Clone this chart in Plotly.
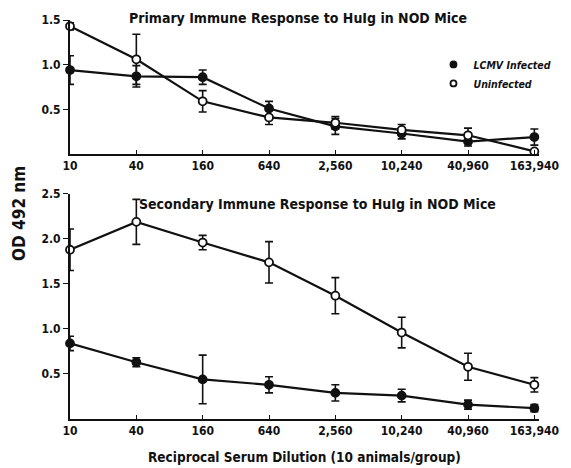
import plotly.graph_objects as go

dilutions = ["10", "40", "160", "640", "2,560", "10,240", "40,960", "163,940"]

# Primary response
prim_lcmv = [0.94, 0.87, 0.86, 0.51, 0.31, 0.23, 0.14, 0.19]
prim_lcmv_err = [0.16, 0.12, 0.08, 0.08, 0.09, 0.06, 0.05, 0.09]
prim_uninf = [1.43, 1.06, 0.59, 0.41, 0.35, 0.27, 0.21, 0.03]
prim_uninf_err = [0.04, 0.28, 0.12, 0.08, 0.07, 0.06, 0.08, 0.0]

# Secondary response
sec_lcmv = [0.84, 0.63, 0.44, 0.38, 0.29, 0.26, 0.16, 0.12]
sec_lcmv_err = [0.08, 0.05, 0.27, 0.09, 0.09, 0.07, 0.05, 0.04]
sec_uninf = [1.88, 2.19, 1.96, 1.74, 1.37, 0.96, 0.58, 0.38]
sec_uninf_err = [0.23, 0.25, 0.08, 0.23, 0.20, 0.17, 0.15, 0.08]

series_names = ["LCMV Infected", "Uninfected"]

FONT = "Liberation Sans Narrow, DejaVu Sans Condensed, Arial Narrow, sans-serif"
BLACK = "#111111"

fig = go.Figure()

def marker(filled, size=8):
    return dict(symbol="circle", size=size,
                color=BLACK if filled else "white",
                line=dict(color=BLACK, width=1.8))

def add(x, y, err, filled, xa, ya, name):
    fig.add_trace(go.Scatter(
        x=x, y=y, mode="lines+markers", name=name, showlegend=False,
        xaxis=xa, yaxis=ya, cliponaxis=False,
        line=dict(color=BLACK, width=2.2),
        marker=marker(filled),
        error_y=dict(type="data", array=err, visible=True,
                     color=BLACK, thickness=1.6, width=4),
    ))

add(dilutions, prim_lcmv, prim_lcmv_err, True, "x", "y", series_names[0])
add(dilutions, prim_uninf, prim_uninf_err, False, "x", "y", series_names[1])
add(dilutions, sec_lcmv, sec_lcmv_err, True, "x2", "y2", series_names[0])
add(dilutions, sec_uninf, sec_uninf_err, False, "x2", "y2", series_names[1])

# legend-only entries (markers only)
for name, filled in zip(series_names, [True, False]):
    fig.add_trace(go.Scatter(x=[None], y=[None], mode="markers", name=name,
                             showlegend=True, marker=marker(filled, 6),
                             xaxis="x", yaxis="y"))

xcommon = dict(type="category", range=[0, 7.07], showline=True, linecolor=BLACK,
               linewidth=2, ticks="inside", ticklen=4, tickcolor=BLACK,
               showgrid=False, zeroline=False,
               tickfont=dict(family=FONT, size=12, color=BLACK, weight="bold"))
ycommon = dict(showline=True, linecolor=BLACK, linewidth=2, ticks="outside",
               ticklen=5, tickcolor=BLACK, showgrid=False, zeroline=False,
               tickformat=".1f",
               tickfont=dict(family=FONT, size=12, color=BLACK, weight="bold"))

fig.update_layout(
    width=571, height=468,
    margin=dict(l=70, r=23, t=20, b=49),
    paper_bgcolor="white", plot_bgcolor="white",
    xaxis=dict(**xcommon, anchor="y", domain=[0, 1]),
    yaxis=dict(**ycommon, anchor="x", domain=[0.664, 1.0], range=[0, 1.5],
               tickvals=[0.5, 1.0, 1.5]),
    xaxis2=dict(**xcommon, anchor="y2", domain=[0, 1]),
    yaxis2=dict(**ycommon, anchor="x2", domain=[0, 0.564], range=[0, 2.5],
                tickvals=[0.5, 1.0, 1.5, 2.0, 2.5]),
    legend=dict(x=0.775, y=0.925, xanchor="left", yanchor="top",
                bgcolor="rgba(0,0,0,0)", itemwidth=30, tracegroupgap=0,
                font=dict(family=FONT, size=10.5, color=BLACK, weight="bold",
                          style="italic")),
    showlegend=True,
    annotations=[
        dict(text="Primary Immune Response to HuIg in NOD Mice", xref="paper",
             yref="paper", x=0.486, y=1.005, xanchor="center", yanchor="middle",
             showarrow=False, font=dict(family=FONT, size=14, color=BLACK, weight="bold")),
        dict(text="Secondary Immune Response to HuIg in NOD Mice", xref="paper",
             yref="paper", x=0.527, y=0.538, xanchor="center", yanchor="middle",
             showarrow=False, font=dict(family=FONT, size=14, color=BLACK, weight="bold")),
        dict(text="OD 492 nm", xref="paper", yref="paper", x=-0.11, y=0.515,
             xanchor="center", yanchor="middle", textangle=-90, showarrow=False,
             font=dict(family=FONT, size=17, color=BLACK, weight="bold")),
        dict(text="Reciprocal Serum Dilution (10 animals/group)", xref="paper",
             yref="paper", x=0.5, y=-0.095, xanchor="center", yanchor="middle",
             showarrow=False, font=dict(family=FONT, size=13.5, color=BLACK, weight="bold")),
    ],
)

fig.write_html("out.html")
